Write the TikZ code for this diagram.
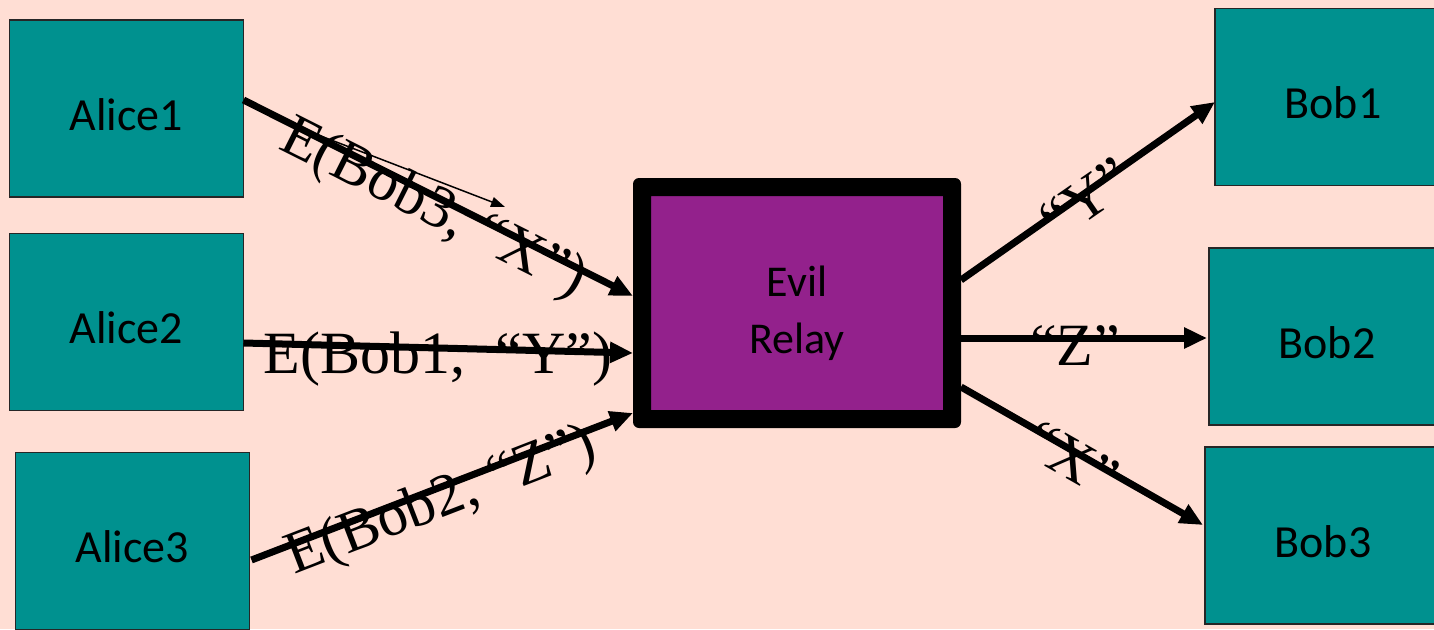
\documentclass[tikz,border=0pt]{standalone}
\usepackage{fontspec}
\setmainfont{Liberation Serif}
\newfontfamily\boxfont{Carlito}
\usetikzlibrary{arrows.meta,calc}
\definecolor{bgpink}{RGB}{255,222,212}
\definecolor{tealbox}{RGB}{0,145,143}
\definecolor{relaypurple}{RGB}{147,33,140}
\begin{document}
\begin{tikzpicture}[x=1pt,y=-1pt,
  party/.style={draw=black!85, line width=1.5pt, fill=tealbox, minimum height=177pt, minimum width=234pt, inner sep=0pt, outer sep=0pt},
  partytxt/.style={font=\boxfont\fontsize{46}{55}\selectfont, yshift=-6pt},
  relay/.style={fill=relaypurple, minimum width=292pt, minimum height=214pt, inner sep=0pt, outer sep=18pt},
  link/.style={line width=7pt, -{Triangle[length=23pt,width=20pt]}},
  thinlink/.style={line width=1.5pt, -{Triangle[length=14pt,width=10pt]}},
  msg/.style={font=\fontsize{60}{72}\selectfont, anchor=base, inner sep=0pt},
]
\fill[bgpink] (0,0) rectangle (1434,629);
\useasboundingbox (0,0) rectangle (1434,629);
\clip (0,0) rectangle (1434,629);

% parties
\node[party, label={[partytxt]center:Alice1}] (a1) at (126.5,108.5) {};
\node[party, label={[partytxt]center:Alice2}] (a2) at (126.5,322) {};
\node[party, label={[partytxt]center:Alice3}] (a3) at (132.5,541) {};
\node[party, minimum width=236pt, label={[partytxt]center:Bob1}] (b1) at (1333,97) {};
\node[party, minimum width=236pt, label={[partytxt]center:Bob2}] (b2) at (1327,336.5) {};
\node[party, minimum width=236pt, label={[partytxt]center:Bob3}] (b3) at (1323,535.5) {};

% relay
\node[relay] (r) at (797,303) {};
\fill[black, even odd rule] [rounded corners=6pt] (r.south west) rectangle (r.north east)
  [sharp corners] ([shift={(18pt,18pt)}]r.south west) rectangle ([shift={(-18pt,-18pt)}]r.north east);
\node[font=\boxfont\fontsize{44}{57}\selectfont, align=center, inner sep=0pt] (rt) at ([yshift=-10pt]r.center) {Evil\\Relay};

% labels
\node[msg, rotate=-26.7] (m1) at (426,223) {E(Bob3, “X”)};
\node[msg] (m2) at (438,373) {E(Bob1,\ \ “Y”)};
\node[msg, rotate=21.1] (m3) at (447,516) {E(Bob2, “Z”)};
\node[msg, rotate=34.7] (m4) at (1097,215) {“Y”};
\node[msg] (m5) at (1075,365) {“Z”};
\node[msg, rotate=-29.6] (m6) at (1062,476) {“X”};

% connectors
\draw[link] ([yshift=8.5pt]a1.east) -- ([yshift=7pt]r.west);
\draw[link] ([yshift=-21pt]a2.east) -- ([yshift=-50pt]r.west);
\draw[link] ([shift={(2pt,-19pt)}]a3.east) -- ([yshift=-110pt]r.west);
\draw[link] ([yshift=23pt]r.east) -- ([yshift=-5pt]b1.west);
\draw[link] ([yshift=-35pt]r.east) -- ([shift={(-2pt,-1.5pt)}]b2.west);
\draw[link] ([yshift=-84pt]r.east) -- ([shift={(-2pt,10.5pt)}]b3.west);

\coordinate (t0) at (300,128);
\coordinate (t1) at (505,207);
\draw[thinlink] (t0) -- (t1);
\end{tikzpicture}
\end{document}
